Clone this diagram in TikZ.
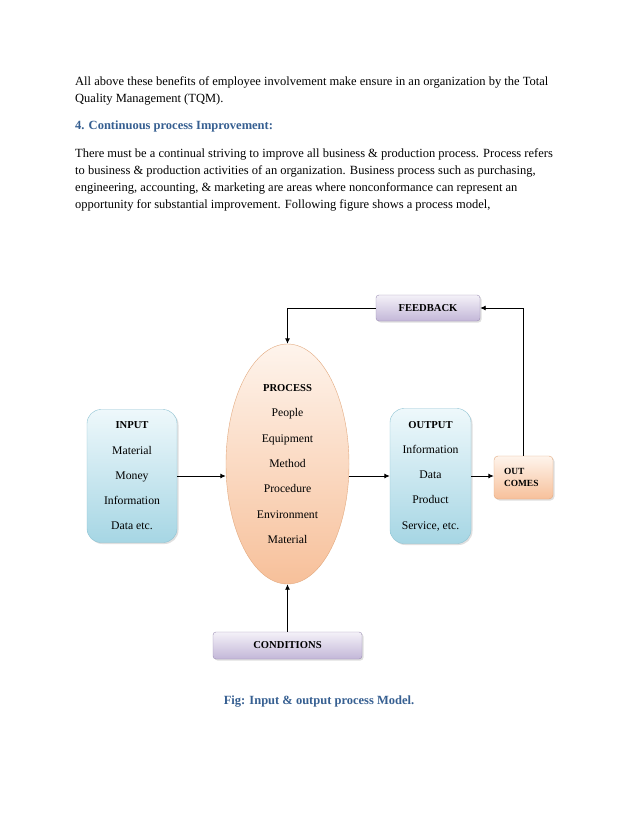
\documentclass[tikz,border=0pt]{standalone}
\usepackage{fontspec}
\setmainfont{Liberation Serif}
\usepackage{tikz}
\usetikzlibrary{shapes.geometric,shadows,arrows.meta}

\definecolor{headblue}{HTML}{365F91}
\definecolor{bluetop}{HTML}{EEF8FB}
\definecolor{bluebot}{HTML}{A6D6E4}
\definecolor{blueline}{HTML}{8EC3D3}
\definecolor{lilactop}{HTML}{F4F1F8}
\definecolor{lilacbot}{HTML}{C3B7D8}
\definecolor{lilacline}{HTML}{9D90B5}
\definecolor{peachtop}{HTML}{FEF4EC}
\definecolor{peachbot}{HTML}{F7C09A}
\definecolor{peachline}{HTML}{E3A97E}

\begin{document}
\begin{tikzpicture}[x=1pt,y=-1pt,
    bodytext/.style={anchor=north west,inner sep=0pt,align=left,font=\fontsize{12.5}{17}\selectfont},
    inbox/.style={draw=blueline,rounded corners=14pt,top color=bluetop,bottom color=bluebot,
        align=center,font=\fontsize{11.7}{25.3}\selectfont,
        drop shadow={shadow xshift=1.5pt,shadow yshift=-1.5pt,opacity=0.25}},
    bar/.style={draw=lilacline,rounded corners=3pt,top color=lilactop,bottom color=lilacbot,
        font=\fontsize{10.6}{12}\selectfont\bfseries,
        drop shadow={shadow xshift=1.5pt,shadow yshift=-1.5pt,opacity=0.25}},
    arr/.style={-{Latex[length=5.5pt,width=5pt]},line width=0.9pt}]
\useasboundingbox[fill=white] (0,0) rectangle (638,826);

% text above the figure
\node[bodytext] (t1) at (75,77) {All above these benefits of employee involvement make ensure in an organization by the Total\\
Quality Management (TQM).};
\node[bodytext,text=headblue,font=\fontsize{12.5}{17}\selectfont\bfseries] (t2) at (75,121) {4. Continuous process Improvement:};
\node[bodytext] (t3) at (75,148) {There must be a continual striving to improve all business \& production process. Process refers\\
to business \& production activities of an organization. Business process such as purchasing,\\
engineering, accounting, \& marketing are areas where nonconformance can represent an\\
opportunity for substantial improvement. Following figure shows a process model,};

% the model
\node[ellipse,draw=peachline,top color=peachtop,bottom color=peachbot,
    minimum width=123pt,minimum height=240pt,align=center,
    font=\fontsize{11.7}{25.4}\selectfont] (proc) at (287.5,464)
    {{\fontsize{10.6}{25.4}\selectfont\bfseries PROCESS}\\ People\\ Equipment\\ Method\\ Procedure\\ Environment\\ Material};
\node[inbox,minimum width=90pt,minimum height=133pt] (in) at (132,476)
    {{\fontsize{10.6}{25.3}\selectfont\bfseries INPUT}\\ Material\\ Money\\ Information\\ Data etc.};
\node[inbox,minimum width=81pt,minimum height=135pt] (out) at (430.5,476)
    {{\fontsize{10.6}{25.3}\selectfont\bfseries OUTPUT}\\ Information\\ Data\\ Product\\ Service, etc.};
\node[draw=peachline,rounded corners=4pt,top color=peachtop,bottom color=peachbot,
    minimum width=59pt,minimum height=43pt,text width=39pt,inner xsep=10pt,align=left,
    font=\fontsize{9.4}{12}\selectfont\bfseries,
    drop shadow={shadow xshift=1.5pt,shadow yshift=-1.5pt,opacity=0.25}] (oc) at (523.5,477.5) {OUT\\ COMES};
\node[bar,minimum width=104pt,minimum height=26pt] (fb) at (428,308) {FEEDBACK};
\node[bar,minimum width=149pt,minimum height=27pt] (cond) at (287.5,645.5) {CONDITIONS};

\draw[arr] (in.east) -- (in.east -| proc.west);
\draw[arr] (proc.east |- out.west) -- (out.west);
\draw[arr] (out.east) -- (out.east -| oc.west);
\draw[arr] (oc.north) |- (fb.east);
\draw[arr] (fb.west) -| (proc.north);
\draw[arr] (cond.north) -- (proc.south);

\node[text=headblue,font=\fontsize{12.5}{14}\selectfont\bfseries] (cap) at (319,702) {Fig: Input \& output process Model.};
\end{tikzpicture}
\end{document}
